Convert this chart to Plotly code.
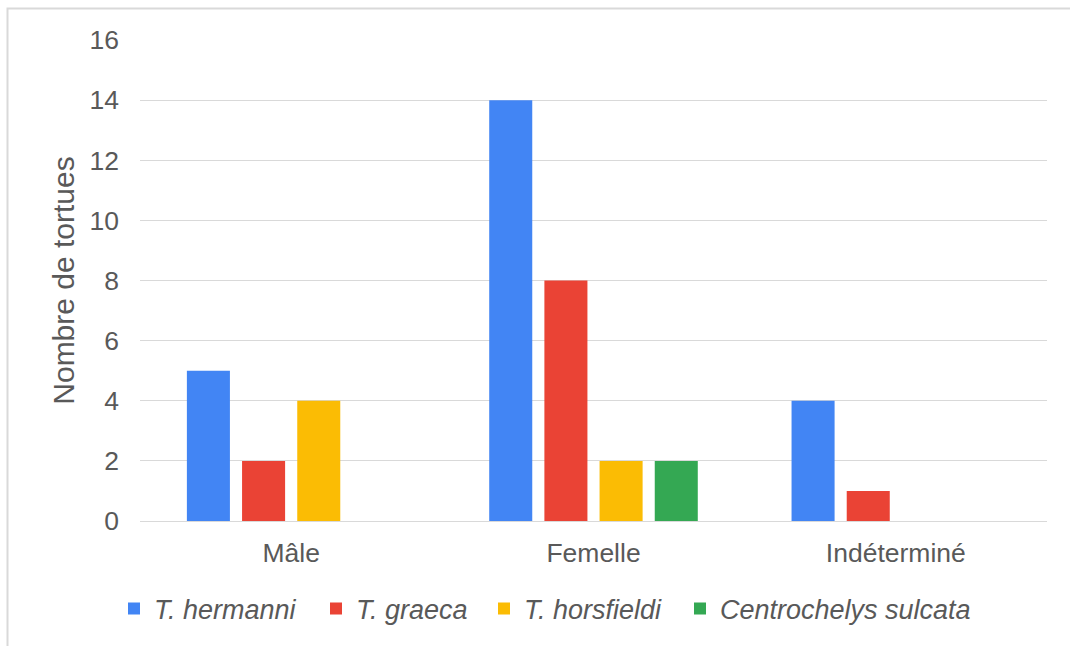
import plotly.graph_objects as go

categories = ["Mâle", "Femelle", "Indéterminé"]
series_names = ["T. hermanni", "T. graeca", "T. horsfieldi", "Centrochelys sulcata"]
hermanni = [5, 14, 4]
graeca = [2, 8, 1]
horsfieldi = [4, 2, 0]
sulcata = [0, 2, 0]
y_ticks = [0, 2, 4, 6, 8, 10, 12, 14, 16]

colors = ["#4285F4", "#EA4335", "#FBBC04", "#34A853"]
values = [hermanni, graeca, horsfieldi, sulcata]
legend_ids = ["legend", "legend2", "legend3", "legend4"]
legend_left_px = [114, 316, 484, 680]

W, H = 1070, 646
ml, mr, mt, mb = 140, 23, 40, 125
pw, ph = W - ml - mr, H - mt - mb

def px_x(p):
    return (p - ml) / pw

def px_y(p):
    return (H - mb - p) / ph

fig = go.Figure()
for name, vals, col, lid in zip(series_names, values, colors, legend_ids):
    fig.add_trace(go.Bar(
        x=categories, y=vals, name=name, legend=lid,
        marker=dict(color=col, line=dict(width=0)),
    ))

legend_font = dict(size=27, family="Liberation Sans, Arial, sans-serif", color="#595959", style="italic")
legends = {}
for lid, lx in zip(legend_ids, legend_left_px):
    legends[lid] = dict(
        orientation="h", x=px_x(lx), xanchor="left",
        y=px_y(609), yanchor="middle",
        font=legend_font, itemwidth=30,
        bgcolor="rgba(0,0,0,0)",
    )

fig.update_layout(
    width=W, height=H,
    margin=dict(l=ml, r=mr, t=mt, b=mb, autoexpand=False),
    paper_bgcolor="white", plot_bgcolor="white",
    font=dict(family="Liberation Sans, Arial, sans-serif", color="#595959", size=26.5),
    barmode="group", bargap=0.27, bargroupgap=0.22,
    showlegend=True,
    xaxis=dict(
        showgrid=False, showline=False, zeroline=False,
        ticks="", ticklabelstandoff=13,
        tickfont=dict(size=26.5),
    ),
    yaxis=dict(
        range=[0, 16], tickvals=y_ticks,
        showgrid=True, gridcolor="#d9d9d9", gridwidth=1.3,
        zeroline=True, zerolinecolor="#d9d9d9", zerolinewidth=1.3,
        showline=False, ticks="", ticklabelstandoff=20,
        tickfont=dict(size=26.5),
        title=dict(text="Nombre de tortues", font=dict(size=30, color="#595959"), standoff=6),
    ),
    shapes=[dict(
        type="rect", xref="paper", yref="paper",
        x0=px_x(7.5), x1=px_x(1080), y0=px_y(660), y1=px_y(8.5),
        line=dict(color="#d9d9d9", width=2), fillcolor="rgba(0,0,0,0)", layer="below",
    )],
    **legends,
)

fig.write_html("out.html")
